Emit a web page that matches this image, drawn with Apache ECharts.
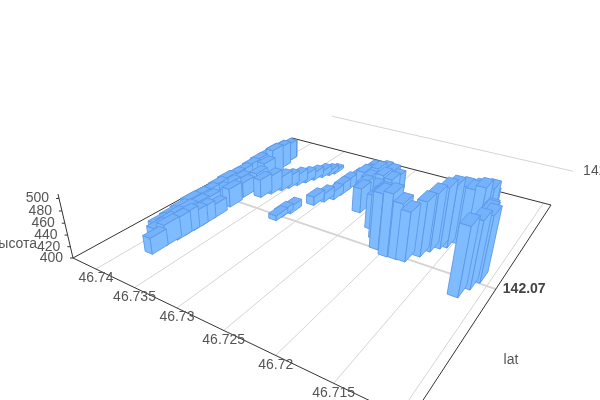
<!DOCTYPE html>
<html><head><meta charset="utf-8"><style>html,body{margin:0;padding:0;background:#fff}#c{width:600px;height:400px}</style>
<script src="https://cdn.jsdelivr.net/npm/echarts@6/dist/echarts.min.js"></script></head><body><div id="c"></div>
<script>
const latTicks=[46.74,46.735,46.73,46.725,46.72,46.715,46.71];
const lngTicks=[142.07,142.08];
const heightTicks=[400,420,440,460,480,500];
const lat=[46.73966,46.73966,46.73966,46.73966,46.73966,46.73966,46.73966,46.73966,46.73966,46.73966,46.73966,46.73966,46.73966,46.73966,46.73966,46.73966,
46.73806,46.73806,46.73790,46.73790,46.73782,46.73782,46.73782,46.73800,46.73823,
46.7389,46.7389,46.7389,46.7389,46.7389,46.7389,46.7389,46.7389,46.7389,
46.73769,46.73816,46.73871,46.73922,46.73966,
46.73663,46.73616,46.73568,46.73534,46.73493,46.73453,46.73412,46.73371,46.73330,46.73300,
46.7322,46.73215,46.73181,46.73079,46.73028,46.72970,46.72960,46.72960,46.72926,46.72824,46.72722,
46.72589,46.72620,
46.72824,46.72824,46.72688,46.72688,46.72688,46.72552,46.72552,46.72552,46.7245,46.7245,46.7245,
46.72308,46.72186,46.72093,46.71967,46.71869,46.71794,46.71714,46.71671,46.71614,46.71566,46.71508,46.71447,46.71376,46.7132,
46.71192,46.71146,46.71110,46.71167,46.71238,46.71371,46.71335,46.71386,46.71437];
const lng=[142.06671,142.06724,142.06776,142.06829,142.06878,142.06926,142.06976,142.07028,142.07081,142.07128,142.07178,142.07228,142.07280,142.07333,142.07385,142.07437,
142.06595,142.06659,142.06705,142.06744,142.06785,142.06827,142.06890,142.06986,142.07074,
142.0664,142.0668,142.0672,142.0678,142.0684,142.0690,142.0696,142.0702,142.0708,
142.07136,142.07208,142.07290,142.07369,142.07441,
142.07112,142.07157,142.07203,142.07236,142.07275,142.07314,142.07353,142.07393,142.07425,142.07450,
142.07000,142.07032,142.07070,142.07172,142.07216,142.07253,142.07301,142.07353,142.07406,142.07432,142.07432,
142.07219,142.07262,
142.07392,142.07466,142.07342,142.07417,142.07479,142.07305,142.07367,142.07442,142.07305,142.07367,142.07417,
142.07137,142.07086,142.07031,142.07010,142.07013,142.07016,142.07070,142.07116,142.07152,142.07171,142.07215,142.07236,142.07261,142.07285,
142.06931,142.06988,142.07039,142.07093,142.07195,142.07313,142.07322,142.07298,142.07273];
const height=[428,430,432,436,435,434,436,438,436,436,438,440,440,442,440,436,
428,436,437,438,432,431,424,434,428,
430,432,434,434,432,430,432,434,432,
437,442,452,444,434,
434,435,427,423,421,417,415,413,409,406,
409,411,413,416,416,416,420,420,420,428,428,
445,445,
434,430,438,442,432,434,444,438,432,440,436,
461,481,496,506,494,484,493,499,504,506,498,492,494,490,
512,510,508,500,479,455,470,478,488];
const latName='lat', heightName='высота';

const LAT_RANGE=[46.7432,46.7092], LNG_RANGE=[142.064,142.0764], Z_RANGE=[400,507];
const BAR_DLAT=0.00095, BAR_DLNG=0.00072;
const A=[73,258],B=[410,420],C=[551,205],D=[292,138],VZ=[290,1183],ZTOP_Y=194;
const dx1=B[0]-C[0],dy1=B[1]-C[1],dx2=D[0]-C[0],dy2=D[1]-C[1],sx=A[0]-B[0]+C[0]-D[0],sy=A[1]-B[1]+C[1]-D[1];
const den=dx1*dy2-dx2*dy1,g=(sx*dy2-dx2*sy)/den,h=(dx1*sy-sx*dy1)/den;
const a=B[0]-A[0]+g*B[0],b=D[0]-A[0]+h*D[0],d=B[1]-A[1]+g*B[1],e=D[1]-A[1]+h*D[1];
const k=(A[1]-ZTOP_Y)/(ZTOP_Y-VZ[1]);
const lm=echarts.number.linearMap;
function P(la,ln,z){
  const t=lm(la,LAT_RANGE,[0,1]),s=lm(ln,LNG_RANGE,[0,1]),q=lm(z,Z_RANGE,[0,1]);
  const w=1+g*t+h*s+k*q;
  return [(a*t+b*s+A[0]+k*q*VZ[0])/w,(d*t+e*s+A[1]+k*q*VZ[1])/w];
}
const TXT='#555',LINE='#333',GRID='#d4d4d4',FONT='14px "Liberation Sans",Arial,sans-serif';
const FILL='#7fbcff',TOP='#74b2fb',STROKE='#5c97e8';
function ln(p,q,c,wd){return {type:'line',shape:{x1:p[0],y1:p[1],x2:q[0],y2:q[1]},style:{stroke:c,lineWidth:wd}};}
function tx(x,y,s,al,f,c){return {type:'text',x:x,y:y,style:{text:s,align:al,verticalAlign:'middle',font:f||FONT,fill:c||TXT}};}
const la0=LAT_RANGE[0],la1=LAT_RANGE[1],n0=LNG_RANGE[0],n1=LNG_RANGE[1],z0=Z_RANGE[0];
const idx=lat.map((_,i)=>i).sort((p,q)=>{
  const kp=lm(lat[p],LAT_RANGE,[0,1])-lm(lng[p],LNG_RANGE,[0,1]);
  const kq=lm(lat[q],LAT_RANGE,[0,1])-lm(lng[q],LNG_RANGE,[0,1]);
  return kp-kq;});
const bars=idx.map(i=>[lat[i],lng[i],height[i]]);
const option={animation:false,series:[
 {type:'custom',coordinateSystem:'none',silent:true,data:latTicks,z:1,renderItem(p,api){
   const v=api.value(0),q=P(v,n0,z0),r=P(v,n1,z0);
   return {type:'group',children:[ln(q,r,GRID,1)]};}},
 {type:'custom',coordinateSystem:'none',silent:true,data:lngTicks,z:1,renderItem(p,api){
   const v=api.value(0),q=P(la0,v,z0),r=P(la1,v,z0);
   return {type:'group',children:[ln(q,r,GRID,v===lngTicks[0]?2:1)]};}},
 {type:'custom',coordinateSystem:'none',silent:true,data:[0],z:2,renderItem(){
   const pa=P(la0,n0,z0),pb=P(la1,n0,z0),pc=P(la1,n1,z0),pd=P(la0,n1,z0),pt=P(la0,n0,Z_RANGE[1]);
   return {type:'group',children:[ln(pa,pb,LINE,1),ln(pb,pc,LINE,1),ln(pc,pd,LINE,1),ln(pd,pa,LINE,1),ln(pa,pt,LINE,1),
     tx(511,360,latName,'center'),tx(14,244,heightName,'center')]};}},
 {type:'custom',coordinateSystem:'none',silent:true,data:heightTicks,z:3,renderItem(p,api){
   const v=api.value(0),q=P(la0,n0,v);
   return {type:'group',children:[ln(q,[q[0]-3,q[1]],LINE,1),tx(q[0]-10,q[1],String(v),'right')]};}},
 {type:'custom',coordinateSystem:'none',silent:true,data:latTicks,z:3,renderItem(p,api){
   const v=api.value(0),q=P(v,n0,z0);
   return {type:'text',x:q[0],y:q[1]+9.5,style:{text:String(v),align:'center',verticalAlign:'middle',font:FONT,fill:TXT}};}},
 {type:'custom',coordinateSystem:'none',silent:true,data:lngTicks,z:3,renderItem(p,api){
   const v=api.value(0),q=P(la1,v,z0),first=v===lngTicks[0];
   return tx(q[0]+(first?7:10),q[1],String(v),'left',first?'bold '+FONT:FONT,first?'#444':TXT);}},
 {type:'custom',coordinateSystem:'none',silent:true,data:bars,z:4,renderItem(p,api){
   const la=api.value(0),n=api.value(1),z=api.value(2);
   const lf=la+BAR_DLAT/2,ln_=la-BAR_DLAT/2,w=n-BAR_DLNG/2,o=n+BAR_DLNG/2;
   const poly=(pts,fill)=>({type:'polygon',shape:{points:pts},style:{fill:fill,stroke:STROKE,lineWidth:0.9,lineJoin:'round'}});
   return {type:'group',children:[
     poly([P(lf,w,z),P(ln_,w,z),P(ln_,w,z0),P(lf,w,z0)],FILL),
     poly([P(ln_,w,z),P(ln_,o,z),P(ln_,o,z0),P(ln_,w,z0)],FILL),
     poly([P(lf,w,z),P(lf,o,z),P(ln_,o,z),P(ln_,w,z)],TOP)]};}}
]};
const chart=echarts.init(document.getElementById('c'),null,{renderer:'canvas',width:600,height:400});
chart.setOption(option);
</script></body></html>
